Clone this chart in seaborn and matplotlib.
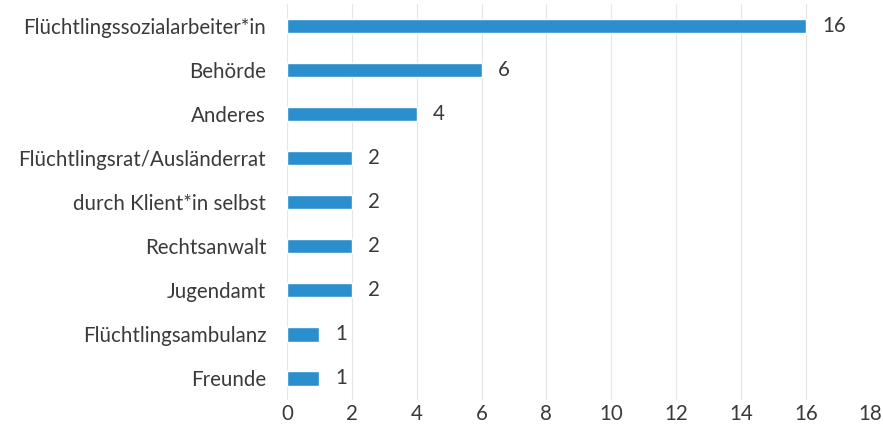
import matplotlib
matplotlib.use("Agg")
import matplotlib.pyplot as plt
import seaborn as sns
import pandas as pd

categories = [
    "Flüchtlingssozialarbeiter*in",
    "Behörde",
    "Anderes",
    "Flüchtlingsrat/Ausländerrat",
    "durch Klient*in selbst",
    "Rechtsanwalt",
    "Jugendamt",
    "Flüchtlingsambulanz",
    "Freunde",
]
counts = [16, 6, 4, 2, 2, 2, 2, 1, 1]
x_ticks = [0, 2, 4, 6, 8, 10, 12, 14, 16, 18]

df = pd.DataFrame({"Kategorie": categories, "Anzahl": counts})

sns.set_theme(style="white")
plt.rcParams["font.family"] = ["Lato", "DejaVu Sans"]

fig = plt.figure(figsize=(8.83, 4.43), dpi=100)
ax = fig.add_axes([0.325, 0.097, 0.661, 0.894])

bar_color = "#2b8fcd"
sns.barplot(data=df, x="Anzahl", y="Kategorie", orient="h", color=bar_color,
            width=0.34, saturation=1, ax=ax, zorder=3)

fs = 14.8
text_color = "#3a3a3a"
ax.set_xlim(0, 18)
ax.set_xticks(x_ticks)
ax.set_xticklabels([str(t) for t in x_ticks], fontsize=fs, color=text_color)
ax.grid(axis="x", color="#e6e6e6", linewidth=0.8, zorder=0)
ax.grid(axis="y", visible=False)
for s in ax.spines.values():
    s.set_visible(False)
ax.tick_params(axis="both", length=0)
ax.tick_params(axis="x", pad=3)
ax.tick_params(axis="y", pad=15)
ax.set_xlabel("")
ax.set_ylabel("")
for lbl in ax.get_yticklabels():
    lbl.set_fontsize(fs)
    lbl.set_color(text_color)

for i, v in enumerate(counts):
    ax.text(v + 0.5, i, str(v), va="center", ha="left", fontsize=fs, color=text_color)

fig.savefig("out.png", dpi=100)
